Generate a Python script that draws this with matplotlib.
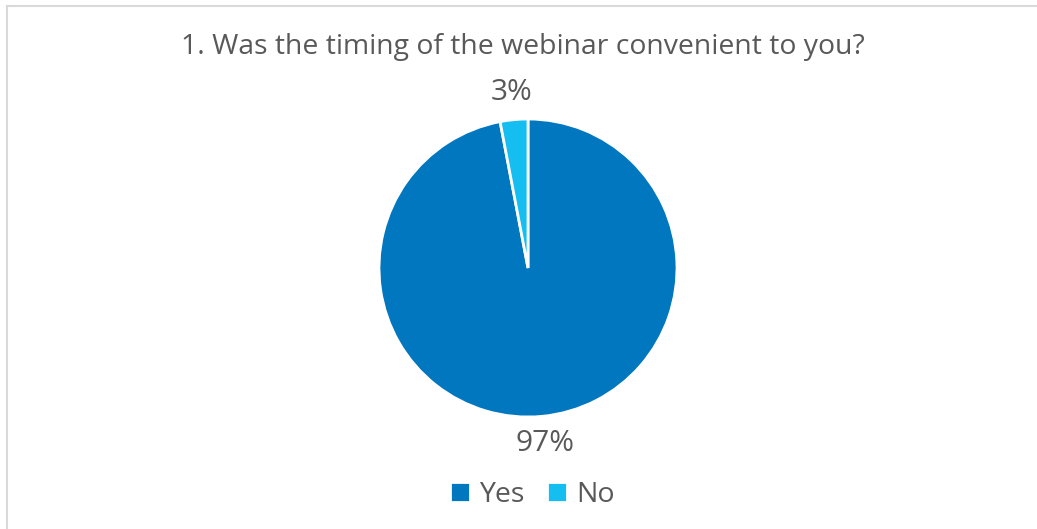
import matplotlib
matplotlib.use("Agg")
import matplotlib.pyplot as plt
from matplotlib.lines import Line2D

# survey answers
labels = ["Yes", "No"]
shares = [97, 3]
colors = ["#0077BF", "#14BEF0"]
title = "1. Was the timing of the webinar convenient to you?"

plt.rcParams["font.family"] = ["Open Sans", "DejaVu Sans"]
txt = "#595959"

W, H = 1037, 529
fig = plt.figure(figsize=(W / 100, H / 100), dpi=100)

# pie axes: centre (528, 268) px, radius 149 px
cx, cy, r = 528, 268, 149
ax = fig.add_axes([(cx - r) / W, (H - cy - r) / H, 2 * r / W, 2 * r / H])
wedges, _, pcts = ax.pie(shares, colors=colors, startangle=90, counterclock=False,
                         autopct="%.0f%%", pctdistance=1.18,
                         wedgeprops=dict(edgecolor="white", linewidth=2),
                         textprops=dict(color=txt, fontsize=21.5))
ax.set_xlim(-1, 1)
ax.set_ylim(-1, 1)
ax.axis("off")

fig.text(522.5 / W, 1 - 47 / H, title, ha="center", va="center", fontsize=20.4, color=txt)

fig.legend(wedges, labels, loc="center", bbox_to_anchor=(532 / W, 1 - 495 / H),
           ncol=2, frameon=False, fontsize=20.5, labelcolor=txt,
           handlelength=0.72, handleheight=0.72, handletextpad=0.3, columnspacing=0.8)

# light frame, top and left edges
fig.add_artist(Line2D([6.5 / W, 6.5 / W], [0, 1 - 5.5 / H], color="#D9D9D9", lw=1.5))
fig.add_artist(Line2D([6.5 / W, 1], [1 - 5.5 / H, 1 - 5.5 / H], color="#D9D9D9", lw=1.5))

fig.savefig("out.png", dpi=100)
